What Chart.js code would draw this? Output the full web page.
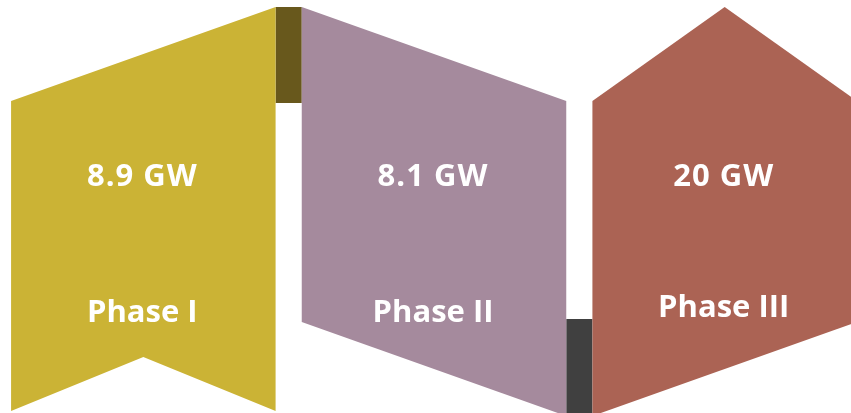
<!DOCTYPE html>
<html><head><meta charset="utf-8">
<script src="https://cdn.jsdelivr.net/npm/chart.js@4.4.0/dist/chart.umd.min.js"></script>
<style>
html,body{margin:0;padding:0;background:#fff;overflow:hidden;width:851px;height:413px;}
#wrap{position:absolute;left:-2px;top:0;width:872px;height:413px;}
</style></head><body>
<div id="wrap"><canvas id="c" width="872" height="413"></canvas></div>
<script>
// ---- data ----
const phases = ['Phase I', 'Phase II', 'Phase III'];
const capacityGW = [8.9, 8.1, 20];
const capacityLabels = capacityGW.map(v => v + ' GW');

// ---- styles ----
const shapeColors = ['#CBB335', '#A58A9D', '#AB6354'];
const connectorColors = ['#68581C', '#404040'];

const bannerPlugin = {
  id: 'banners',
  beforeDatasetsDraw(chart) {
    const ctx = chart.ctx;
    const area = chart.chartArea;
    const meta = chart.getDatasetMeta(0);
    const top = area.top + 7;
    const slant = 94;
    const notch = 54;
    const boxes = meta.data.map(el => {
      const p = el.getProps(['x', 'width'], true);
      return { L: p.x - p.width / 2, R: p.x + p.width / 2, C: p.x };
    });
    const poly = (pts, color) => {
      ctx.beginPath();
      pts.forEach((p, i) => i ? ctx.lineTo(p[0], p[1]) : ctx.moveTo(p[0], p[1]));
      ctx.closePath();
      ctx.fillStyle = color;
      ctx.fill();
    };
    ctx.save();
    const b0 = boxes[0], b1 = boxes[1], b2 = boxes[2];
    const bot1 = area.bottom - 2;
    const bot2 = area.bottom + 3;
    // connectors
    ctx.fillStyle = connectorColors[0];
    ctx.fillRect(b0.R, top, b1.L - b0.R, slant + 2);
    ctx.fillStyle = connectorColors[1];
    ctx.fillRect(b1.R, bot2 - slant - 3, b2.L - b1.R, area.bottom);
    // shape 1: banner with notched bottom
    poly([[b0.L, top + slant], [b0.R, top], [b0.R, bot1], [b0.C, bot1 - notch], [b0.L, bot1]], shapeColors[0]);
    // shape 2: parallelogram
    poly([[b1.L, top], [b1.R, top + slant], [b1.R, bot2], [b1.L, bot2 - slant]], shapeColors[1]);
    // shape 3: pentagon
    poly([[b2.L, top + slant], [b2.C, top], [b2.R, top + slant], [b2.R, bot2 - slant], [b2.L, bot2]], shapeColors[2]);
    ctx.restore();
  },
  afterDatasetsDraw(chart) {
    const ctx = chart.ctx;
    const meta = chart.getDatasetMeta(0);
    const area = chart.chartArea;
    ctx.save();
    ctx.fillStyle = '#FFFFFF';
    ctx.textAlign = 'center';
    ctx.textBaseline = 'alphabetic';
    const phaseBase = [322, 322, 317];
    meta.data.forEach((el, i) => {
      const x = el.getProps(['x'], true).x;
      ctx.font = 'bold 31px "Open Sans"';
      ctx.letterSpacing = '1px';
      ctx.fillText(capacityLabels[i], x - 1, area.top + 186);
      ctx.letterSpacing = '0px';
      ctx.fillText(phases[i], x - 1, area.top + phaseBase[i]);
    });
    ctx.restore();
  }
};

new Chart(document.getElementById('c'), {
  type: 'bar',
  data: {
    labels: phases,
    datasets: [{
      label: 'Capacity (GW)',
      data: capacityGW,
      backgroundColor: 'rgba(0,0,0,0)',
      borderWidth: 0,
      categoryPercentage: 1,
      barPercentage: 0.91
    }]
  },
  options: {
    responsive: false,
    animation: false,
    layout: { padding: 0 },
    scales: {
      x: { display: false },
      y: { display: false, min: 0, max: 25 }
    },
    plugins: { legend: { display: false }, tooltip: { enabled: false } }
  },
  plugins: [bannerPlugin]
});
</script>
</body></html>
